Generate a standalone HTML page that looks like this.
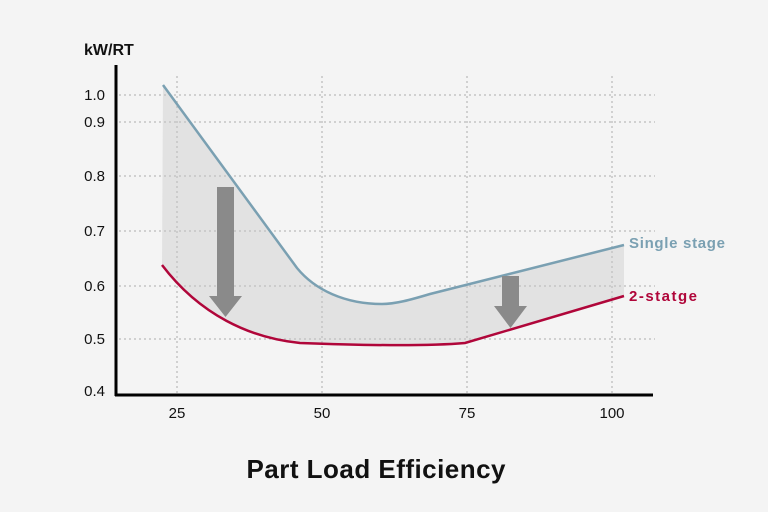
<!DOCTYPE html>
<html><head><meta charset="utf-8"><style>
html,body{margin:0;padding:0;background:#f4f4f4;}
svg{display:block}
text{font-family:"Liberation Sans",sans-serif;}
</style></head><body>
<svg width="768" height="512" viewBox="0 0 768 512" xmlns="http://www.w3.org/2000/svg">
<rect width="768" height="512" fill="#f4f4f4"/>
<path d="M163,85 L297,268 C315,290 345,304 382,304 C395,304 410,300 430,294 L624,245 L624,296 L465,343 C430,346 380,346 300,343 C250,338 200,315 162,265 Z" fill="#e2e2e2"/>
<g stroke="#c4c4c4" stroke-width="1.5" stroke-dasharray="2,3" fill="none">
<line x1="119" y1="95" x2="655" y2="95"/>
<line x1="119" y1="122" x2="655" y2="122"/>
<line x1="119" y1="176" x2="655" y2="176"/>
<line x1="119" y1="231" x2="655" y2="231"/>
<line x1="119" y1="286" x2="655" y2="286"/>
<line x1="119" y1="339" x2="655" y2="339"/>
<line x1="177" y1="76" x2="177" y2="394"/>
<line x1="322" y1="76" x2="322" y2="394"/>
<line x1="467" y1="76" x2="467" y2="394"/>
<line x1="612" y1="76" x2="612" y2="394"/>
</g>
<path d="M163,85 L297,268 C315,290 345,304 382,304 C395,304 410,300 430,294 L624,245" fill="none" stroke="#7aa0b2" stroke-width="2.5"/>
<path d="M162,265 C200,315 250,338 300,343 C380,346 430,346 465,343 L624,296" fill="none" stroke="#b0063a" stroke-width="2.5"/>
<path d="M217,187 H234 V296 H242 L225.5,317 L209,296 H217 Z" fill="#8a8a8a"/>
<path d="M502,276 H519 V306 H527 L510.5,328 L494,306 H502 Z" fill="#8a8a8a"/>
<line x1="116" y1="65" x2="116" y2="396" stroke="#000" stroke-width="3"/>
<line x1="115" y1="395" x2="653" y2="395" stroke="#000" stroke-width="3"/>
<g font-size="15" fill="#111" text-anchor="end">
<text x="105" y="100">1.0</text><text x="105" y="127">0.9</text><text x="105" y="181">0.8</text>
<text x="105" y="236">0.7</text><text x="105" y="291">0.6</text><text x="105" y="344">0.5</text><text x="105" y="396">0.4</text>
</g>
<text x="84" y="55" font-size="16" font-weight="bold" fill="#111">kW/RT</text>
<g font-size="15" fill="#111" text-anchor="middle">
<text x="177" y="418">25</text><text x="322" y="418">50</text><text x="467" y="418">75</text><text x="612" y="418">100</text>
</g>
<text x="629" y="248" font-size="15" font-weight="bold" fill="#7aa0b2" textLength="96">Single stage</text>
<text x="629" y="301" font-size="15" font-weight="bold" fill="#b0063a" textLength="68">2-statge</text>
<text x="376" y="478" font-size="26" font-weight="bold" fill="#111" text-anchor="middle" textLength="259">Part Load Efficiency</text>
</svg>
</body></html>
